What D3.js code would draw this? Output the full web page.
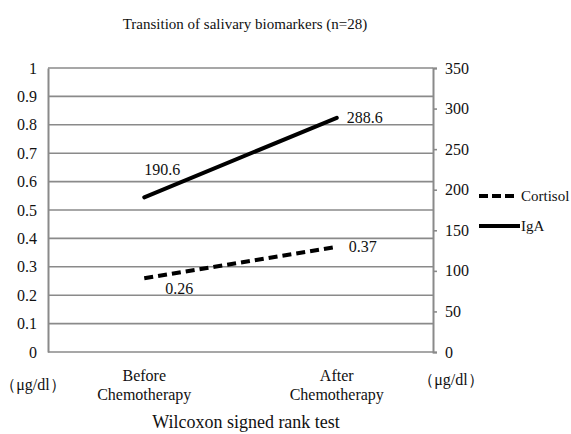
<!DOCTYPE html>
<html><head><meta charset="utf-8">
<script src="https://cdn.jsdelivr.net/npm/d3@7"></script>
<style>body{margin:0;background:#fff}svg text{font-family:"Liberation Serif","Times New Roman",serif !important;fill:#111}</style>
</head><body><svg id="c" width="571" height="434" font-family="Liberation Serif"></svg>
<script>
const categories = ["Before\nChemotherapy", "After\nChemotherapy"];
const cortisol = [0.26, 0.37];
const iga = [190.6, 288.6];
const leftTicks = [0,0.1,0.2,0.3,0.4,0.5,0.6,0.7,0.8,0.9,1];
const rightTicks = [0,50,100,150,200,250,300,350];
const svg = d3.select("#c");
const F="Liberation Serif";
const L=48,R=433,T=68,B=352;
const x = d3.scalePoint().domain(categories).range([L,R]).padding(0.5);
const yL = d3.scaleLinear().domain([0,1]).range([B,T]);
const yR = d3.scaleLinear().domain([0,350]).range([B,T]);
const gray="#8a8a8a";
// gridlines
svg.append("g").selectAll("line").data(leftTicks).join("line")
 .attr("x1",L).attr("x2",R).attr("y1",d=>yL(d)).attr("y2",d=>yL(d))
 .attr("stroke",gray).attr("stroke-width",1.6);
// left axis
const gl = svg.append("g").attr("transform",`translate(${L},0)`).call(d3.axisLeft(yL).tickValues(leftTicks).tickSize(0).tickPadding(11).tickFormat(d=>d3.format("~g")(d)));
gl.attr("font-family",F).attr("font-size",16);
gl.select(".domain").attr("stroke",gray).attr("stroke-width",2);
gl.selectAll("text").attr("fill","#111");
// right axis
const gr = svg.append("g").attr("transform",`translate(${R},0)`).call(d3.axisRight(yR).tickValues(rightTicks).tickSize(4).tickPadding(8));
gr.attr("font-family",F).attr("font-size",16);
gr.select(".domain").attr("stroke",gray).attr("stroke-width",2);
gr.selectAll(".tick line").attr("stroke",gray).attr("stroke-width",1.6);
gr.selectAll("text").attr("fill","#111");
// lines
const line = (ys,vals)=>d3.line().x((d,i)=>x(categories[i])).y(d=>ys(d))(vals);
svg.append("path").attr("d",line(yR,iga)).attr("fill","none").attr("stroke","#000").attr("stroke-width",4).attr("stroke-linecap","round");
svg.append("path").attr("d",line(yL,cortisol)).attr("fill","none").attr("stroke","#000").attr("stroke-width",4).attr("stroke-dasharray","9,5").attr("stroke-linecap","butt");
// data labels
const lab=(t,xx,yy,anchor)=>svg.append("text").attr("x",xx).attr("y",yy).attr("text-anchor",anchor).attr("font-family",F).style("font-size","16px").text(t);
lab(iga[0],x(categories[0])+18,yR(iga[0])-22,"middle");
lab(iga[1],x(categories[1])+10,yR(iga[1])+5,"start");
lab(cortisol[0].toFixed(2),x(categories[0])+35,yL(cortisol[0])+16,"middle");
lab(cortisol[1].toFixed(2),x(categories[1])+12,yL(cortisol[1])+5,"start");
// category labels
categories.forEach(c=>{
  const parts=c.split("\n");
  const t=svg.append("text").attr("x",x(c)).attr("y",381).attr("text-anchor","middle").attr("font-family",F).style("font-size","16px");
  parts.forEach((p,i)=>t.append("tspan").attr("x",x(c)).attr("dy",i?19:0).text(p));
});
// units
svg.append("text").attr("x",33).attr("y",390).attr("text-anchor","middle").style("font-size","16px").text("（μg/dl）");
svg.append("text").attr("x",451).attr("y",385).attr("text-anchor","middle").style("font-size","16px").text("（μg/dl）");
// title
svg.append("text").attr("x",245).attr("y",29).attr("text-anchor","middle").style("font-size","15px").text("Transition of salivary biomarkers (n=28)");
svg.append("text").attr("x",246).attr("y",428).attr("text-anchor","middle").style("font-size","18px").text("Wilcoxon signed rank test");
// legend
const lg=[{n:"Cortisol",dash:"9,4",y:196},{n:"IgA",dash:null,y:226}];
lg.forEach(d=>{
  svg.append("line").attr("x1",479).attr("x2",d.dash?515:520).attr("y1",d.y).attr("y2",d.y).attr("stroke","#000").attr("stroke-width",4).attr("stroke-dasharray",d.dash);
  svg.append("text").attr("x",521).attr("y",d.y+5).style("font-size","15px").text(d.n);
});
</script></body></html>
